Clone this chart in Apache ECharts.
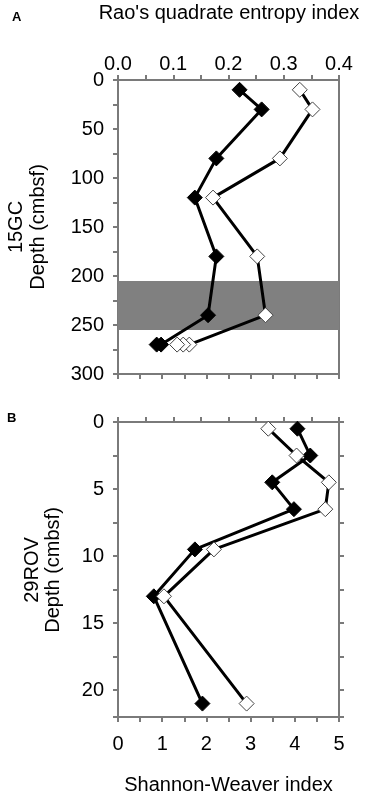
<!DOCTYPE html>
<html>
<head>
<meta charset="utf-8">
<script src="https://cdn.jsdelivr.net/npm/echarts@6/dist/echarts.min.js"></script>
<style>
  html, body { margin: 0; padding: 0; background: #fff; }
  #main { width: 367px; height: 796px; }
</style>
</head>
<body>
<div id="main"></div>
<script>
var myChart = echarts.init(document.getElementById('main'));

// core 15GC (panel A), depth in cmbsf, Rao's index on top axis
var depthA = [10, 30, 80, 120, 180, 240, 270, 270];
var filledA = [0.220, 0.260, 0.178, 0.139, 0.178, 0.163, 0.078, 0.070];
var depthAOpen = [10, 30, 80, 120, 180, 240, 270, 270, 270];
var openA = [0.329, 0.352, 0.293, 0.172, 0.252, 0.267, 0.129, 0.118, 0.107];
var bandA = [205, 255];

// core 29ROV (panel B), Shannon-Weaver index
var depthB = [0.5, 2.5, 4.5, 6.5, 9.5, 13, 21];
var filledB = [4.06, 4.35, 3.49, 3.98, 1.74, 0.81, 1.91];
var openB = [3.40, 4.04, 4.77, 4.69, 2.17, 1.04, 2.91];

function pairs(xs, ys) {
    return xs.map(function (v, i) { return [v, ys[i]]; });
}

var font = 'Liberation Sans, Arial, sans-serif';
var axisGray = '#7a7a7a';

function lineAx() { return { show: true, onZero: false, lineStyle: { color: axisGray, width: 2 } }; }
function tickAx() { return { show: true, inside: false, length: 5, lineStyle: { color: axisGray, width: 2 } }; }
function minorAx() { return { show: true, splitNumber: 2, length: 5, lineStyle: { color: axisGray, width: 2 } }; }
function labelAx(extra) {
    return Object.assign({ fontSize: 20, color: '#000', fontFamily: font }, extra || {});
}

var filledStyle = {
    type: 'line',
    symbol: 'diamond',
    symbolSize: 15,
    lineStyle: { color: '#000', width: 3 },
    itemStyle: { color: '#000', borderColor: '#000', borderWidth: 1 },
    z: 3
};
var openStyle = {
    type: 'line',
    symbol: 'diamond',
    symbolSize: 15,
    lineStyle: { color: '#000', width: 3 },
    itemStyle: { color: '#fff', borderColor: '#444', borderWidth: 1 },
    z: 3
};

var gridBox = { show: true, borderColor: axisGray, borderWidth: 2, backgroundColor: 'transparent' };

var option = {
    animation: false,
    textStyle: { fontFamily: font },
    grid: [
        Object.assign({ left: 118, top: 80, width: 221, height: 294 }, gridBox),
        Object.assign({ left: 118, top: 422, width: 221, height: 295 }, gridBox)
    ],
    xAxis: [
        {   // Rao's index, panel A top
            gridIndex: 0, type: 'value', position: 'top',
            min: 0, max: 0.4, interval: 0.1,
            axisLine: lineAx(), axisTick: tickAx(), minorTick: minorAx(),
            axisLabel: labelAx({ margin: 6, formatter: function (v) { return v.toFixed(1); } }),
            splitLine: { show: false }
        },
        {   // Shannon axis, panel A bottom (no labels)
            gridIndex: 0, type: 'value', position: 'bottom',
            min: 0, max: 5, interval: 0.5,
            axisLine: lineAx(), axisTick: tickAx(),
            axisLabel: { show: false },
            splitLine: { show: false }
        },
        {   // Shannon-Weaver, panel B bottom
            gridIndex: 1, type: 'value', position: 'bottom',
            min: 0, max: 5, interval: 1,
            axisLine: lineAx(), axisTick: tickAx(), minorTick: minorAx(),
            axisLabel: labelAx({ margin: 17 }),
            splitLine: { show: false }
        },
        {   // Rao axis, panel B top (no labels)
            gridIndex: 1, type: 'value', position: 'top',
            min: 0, max: 0.4, interval: 0.05,
            axisLine: lineAx(), axisTick: tickAx(),
            axisLabel: { show: false },
            splitLine: { show: false }
        }
    ],
    yAxis: [
        {
            gridIndex: 0, type: 'value', inverse: true, position: 'left',
            min: 0, max: 300, interval: 50,
            axisLine: lineAx(), axisTick: tickAx(), minorTick: minorAx(),
            axisLabel: labelAx({ margin: 14 }),
            splitLine: { show: false }
        },
        {
            gridIndex: 0, type: 'value', inverse: true, position: 'right',
            min: 0, max: 300,
            axisLine: lineAx(), axisTick: { show: false },
            axisLabel: { show: false }, splitLine: { show: false }
        },
        {
            gridIndex: 1, type: 'value', inverse: true, position: 'left',
            min: 0, max: 22, interval: 5,
            axisLine: lineAx(), axisTick: tickAx(), minorTick: minorAx(),
            axisLabel: labelAx({ margin: 14, showMaxLabel: false }),
            splitLine: { show: false }
        },
        {
            gridIndex: 1, type: 'value', inverse: true, position: 'right',
            min: 0, max: 22, interval: 2.5,
            axisLine: lineAx(), axisTick: tickAx(),
            axisLabel: { show: false }, splitLine: { show: false }
        }
    ],
    series: [
        Object.assign({}, filledStyle, {
            name: '15GC filled',
            xAxisIndex: 0, yAxisIndex: 0,
            data: pairs(filledA, depthA),
            markArea: {
                silent: true,
                itemStyle: { color: '#808080', opacity: 1 },
                data: [[{ yAxis: bandA[0] }, { yAxis: bandA[1] }]]
            }
        }),
        Object.assign({}, openStyle, {
            name: '15GC open',
            xAxisIndex: 0, yAxisIndex: 0,
            data: pairs(openA, depthAOpen)
        }),
        Object.assign({}, filledStyle, {
            name: '29ROV filled',
            xAxisIndex: 2, yAxisIndex: 2,
            data: pairs(filledB, depthB)
        }),
        Object.assign({}, openStyle, {
            name: '29ROV open',
            xAxisIndex: 2, yAxisIndex: 2,
            data: pairs(openB, depthB)
        })
    ],
    graphic: [
        { type: 'text', left: 12, top: 11, style: { text: 'A', font: 'bold 13px ' + font, fill: '#000' } },
        { type: 'text', left: 7, top: 412, style: { text: 'B', font: 'bold 13px ' + font, fill: '#000' } },
        { type: 'text', x: 229, y: 13, style: { text: "Rao's quadrate entropy index", font: '20px ' + font, fill: '#000', align: 'center', verticalAlign: 'middle' } },
        { type: 'text', x: 16.5, y: 227, rotation: Math.PI / 2, style: { text: '15GC', font: '20px ' + font, fill: '#000', align: 'center', verticalAlign: 'middle' } },
        { type: 'text', x: 38, y: 227, rotation: Math.PI / 2, style: { text: 'Depth (cmbsf)', font: '20px ' + font, fill: '#000', align: 'center', verticalAlign: 'middle' } },
        { type: 'text', x: 32, y: 570, rotation: Math.PI / 2, style: { text: '29ROV', font: '20px ' + font, fill: '#000', align: 'center', verticalAlign: 'middle' } },
        { type: 'text', x: 53, y: 570, rotation: Math.PI / 2, style: { text: 'Depth (cmbsf)', font: '20px ' + font, fill: '#000', align: 'center', verticalAlign: 'middle' } },
        { type: 'text', x: 228.5, y: 785, style: { text: 'Shannon-Weaver index', font: '20px ' + font, fill: '#000', align: 'center', verticalAlign: 'middle' } }
    ]
};

myChart.setOption(option);
</script>
</body>
</html>
